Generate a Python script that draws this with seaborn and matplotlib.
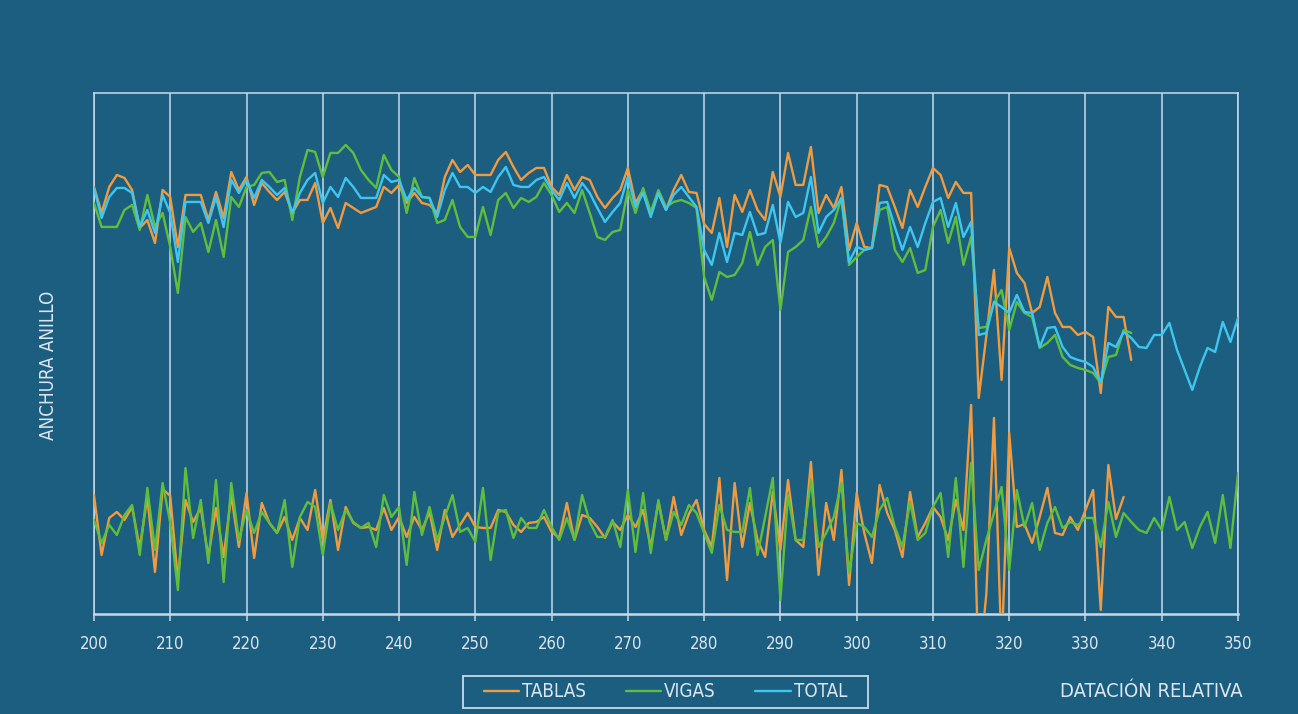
import numpy as np
import pandas as pd
import seaborn as sns
import matplotlib
matplotlib.use("Agg")
import matplotlib.pyplot as plt
from matplotlib import font_manager
from matplotlib.patches import Rectangle

# ---- ring-width series (upper group), first year = 200 ----
START_YEAR = 200

tablas_anchura = [
    427, 401, 427, 439, 436, 424, 386, 394, 371, 424,
    417, 367, 419, 419, 419, 394, 422, 396, 442, 424,
    437, 409, 431, 422, 414, 422, 401, 414, 414, 431,
    391, 406, 386, 411, 406, 401, 404, 407, 427, 421,
    429, 411, 421, 411, 409, 401, 437, 454, 442, 449,
    439, 439, 439, 454, 462, 447, 434, 441, 446, 446,
    427, 419, 439, 424, 437, 434, 417, 406, 416, 424,
    446, 411, 424, 401, 421, 404, 424, 439, 422, 421,
    390, 381, 416, 367, 419, 402, 424, 404, 394, 442,
    417, 461, 429, 429, 467, 401, 419, 406, 427, 364,
    391, 367, 366, 429, 427, 407, 386, 424, 407, 427,
    446, 439, 416, 432, 421, 421, 216, 278, 344, 234,
    366, 341, 331, 301, 307, 337, 301, 287, 287, 279,
    282, 277, 221, 307, 297, 297, 254,
]

vigas_anchura = [
    411, 387, 387, 387, 404, 409, 384, 419, 387, 401,
    367, 321, 397, 382, 391, 362, 394, 357, 417, 407,
    427, 429, 441, 442, 432, 434, 394, 437, 464, 462,
    437, 461, 461, 469, 461, 444, 434, 426, 459, 444,
    437, 401, 436, 417, 416, 391, 394, 414, 387, 377,
    377, 407, 379, 414, 421, 406, 416, 412, 417, 431,
    419, 402, 411, 401, 424, 401, 377, 374, 382, 384,
    424, 401, 426, 402, 424, 407, 412, 414, 411, 406,
    337, 314, 342, 337, 339, 351, 382, 349, 367, 374,
    304, 362, 367, 374, 407, 367, 377, 391, 416, 349,
    357, 364, 366, 404, 407, 364, 352, 366, 341, 344,
    387, 404, 371, 397, 349, 377, 286, 287, 311, 324,
    284, 312, 301, 297, 266, 271, 279, 257, 249, 246,
    244, 241, 231, 257, 259, 284, 281,
]

total_anchura = [
    426, 396, 417, 426, 426, 421, 387, 404, 381, 419,
    401, 352, 412, 412, 412, 391, 417, 387, 434, 421,
    434, 416, 434, 427, 419, 426, 401, 421, 434, 441,
    411, 427, 417, 436, 427, 416, 416, 416, 439, 432,
    434, 414, 426, 417, 416, 397, 424, 441, 427, 427,
    421, 427, 422, 437, 447, 429, 427, 427, 434, 437,
    424, 414, 431, 416, 431, 421, 406, 392, 402, 411,
    437, 407, 421, 397, 421, 404, 419, 427, 417, 407,
    364, 349, 381, 352, 381, 379, 402, 379, 381, 409,
    371, 412, 397, 401, 437, 381, 397, 404, 416, 352,
    367, 364, 366, 411, 412, 387, 364, 387, 367, 391,
    412, 416, 387, 411, 377, 392, 279, 281, 312, 307,
    301, 319, 302, 301, 267, 286, 287, 267, 257, 254,
    252, 247, 231, 271, 267, 282, 276, 267, 266, 279,
    279, 291, 264, 244, 224, 247, 266, 262, 292, 272, 296,
]

# ---- indexed series (lower group) ----
tablas_indice = [
    119, 59, 96, 102, 94, 107, 66, 117, 42, 125,
    118, 34, 114, 92, 106, 57, 106, 57, 119, 67,
    121, 56, 111, 91, 81, 97, 74, 96, 84, 124,
    74, 114, 64, 107, 91, 86, 87, 84, 106, 84,
    97, 77, 97, 84, 102, 64, 104, 77, 89, 101,
    87, 86, 86, 104, 102, 89, 82, 91, 92, 97,
    82, 76, 111, 74, 99, 96, 87, 76, 92, 84,
    99, 87, 104, 67, 112, 74, 117, 79, 100, 114,
    84, 67, 136, 34, 131, 67, 111, 74, 57, 122,
    64, 134, 74, 67, 152, 39, 111, 74, 144, 29,
    121, 81, 51, 129, 101, 84, 57, 122, 77, 91,
    107, 97, 74, 114, 84, 209, -60, 20, 196, -40,
    181, 87, 90, 71, 97, 126, 81, 79, 97, 84,
    104, 124, 4, 149, 95, 117,
]

vigas_indice = [
    94, 71, 89, 79, 99, 109, 59, 126, 64, 131,
    91, 24, 146, 76, 114, 51, 134, 32, 131, 74,
    104, 81, 102, 91, 81, 114, 47, 97, 112, 107,
    59, 111, 84, 104, 92, 86, 91, 67, 119, 97,
    107, 49, 122, 79, 107, 74, 97, 119, 82, 86,
    72, 126, 54, 102, 104, 76, 96, 86, 86, 104,
    87, 74, 96, 74, 119, 92, 77, 77, 94, 67,
    124, 62, 121, 61, 114, 74, 102, 89, 109, 101,
    81, 61, 109, 84, 82, 82, 126, 59, 97, 136,
    14, 119, 74, 74, 134, 67, 81, 97, 131, 41,
    91, 87, 77, 104, 116, 87, 67, 112, 74, 81,
    107, 121, 57, 136, 47, 151, 44, 74, 101, 127,
    44, 124, 87, 111, 64, 91, 107, 86, 92, 89,
    96, 96, 67, 112, 77, 101, 92, 84, 81, 96,
    84, 117, 84, 92, 66, 87, 102, 71, 119, 66, 141,
]

x_ticks = list(range(200, 351, 10))
y_label = "ANCHURA ANILLO"
x_label = "DATACIÓN RELATIVA"

# ---- styling ----
BG = "#1b5e80"
FG = "#dde6ee"
GRID = "#c9d9ea"
COLORS = {"TABLAS": "#f29a3e", "VIGAS": "#5fbf3c", "TOTAL": "#3fc6ef"}

sns.set_theme(style="white")
plt.rcParams["font.family"] = ["DejaVu Sans"]

# Use the condensed face when it is installed, otherwise shrink the text a bit
has_condensed = any("Condensed" in f.fname and "DejaVuSans" in f.fname
                    for f in font_manager.fontManager.ttflist)
STRETCH = "condensed" if has_condensed else "normal"
SCALE = 1.0 if has_condensed else 0.87


def fp(size):
    return font_manager.FontProperties(family="DejaVu Sans", stretch=STRETCH,
                                       size=size * SCALE)


def frame(values, name):
    yrs = np.arange(START_YEAR, START_YEAR + len(values))
    return pd.DataFrame({"year": yrs, "value": values, "serie": name})


fig = plt.figure(figsize=(12.98, 7.14), dpi=100, facecolor=BG)
ax = fig.add_axes([0.0724, 0.1401, 0.8814, 0.7297])
ax.set_facecolor(BG)

lw = 1.7
upper = [frame(tablas_anchura, "TABLAS"), frame(vigas_anchura, "VIGAS"),
         frame(total_anchura, "TOTAL")]
lower = [frame(tablas_indice, "TABLAS"), frame(vigas_indice, "VIGAS")]

for df in upper:
    name = df["serie"].iloc[0]
    sns.lineplot(data=df, x="year", y="value", color=COLORS[name], lw=lw,
                 ax=ax, label=name, zorder=3)
for df in lower:
    name = df["serie"].iloc[0]
    sns.lineplot(data=df, x="year", y="value", color=COLORS[name], lw=lw,
                 ax=ax, legend=False, zorder=3)

ax.set_xlim(200, 350)
ax.set_ylim(0, 521)
ax.set_xticks(x_ticks)
ax.set_yticks([])
ax.set_xlabel("")
ax.set_ylabel("")
ax.grid(False)
for xv in x_ticks:
    ax.axvline(xv, color=GRID, lw=1.1, zorder=1)

for side in ["top", "left", "right"]:
    ax.spines[side].set_color(GRID)
    ax.spines[side].set_linewidth(1.1)
ax.spines["bottom"].set_color(GRID)
ax.spines["bottom"].set_linewidth(1.8)

ax.tick_params(axis="x", colors=GRID, length=5, width=1.1, direction="out",
               labelcolor=FG, pad=10, bottom=True)
for lbl in ax.get_xticklabels():
    lbl.set_fontproperties(fp(12))

# legend entries without their own frame; a wider box is drawn around them
ax.get_legend().remove()
handles, labels = ax.get_legend_handles_labels()
fig.legend(handles[:3], labels[:3], loc="center",
           bbox_to_anchor=(0.5127, 0.031), ncol=3, frameon=False,
           prop=fp(13.5), handlelength=1.9, columnspacing=2.1,
           handletextpad=0.15, borderpad=0.3, labelcolor=FG)
fig.patches.append(Rectangle((0.3567, 0.0084), 0.3120, 0.0448,
                             transform=fig.transFigure, fill=False,
                             edgecolor=GRID, lw=1.3))

fig.text(0.9576, 0.032, x_label, color=FG, ha="right", va="center",
         fontproperties=fp(14.5))
fig.text(0.037, 0.489, y_label, color=FG, ha="center", va="center",
         rotation=90, fontproperties=fp(13.5))

fig.savefig("out.png", dpi=100, facecolor=BG)
